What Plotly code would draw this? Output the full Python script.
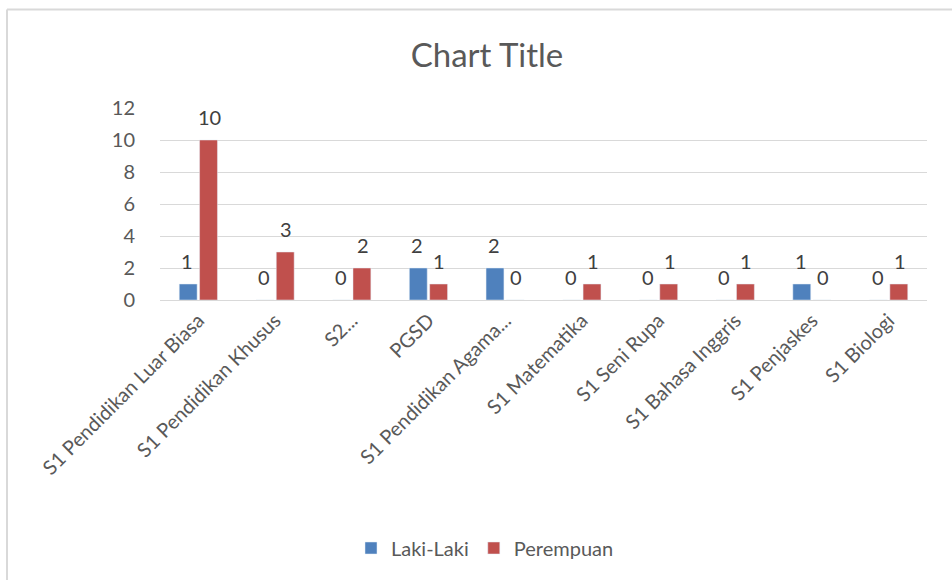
import plotly.graph_objs as go

# data
categories = ["S1 Pendidikan Luar Biasa", "S1 Pendidikan Khusus", "S2...", "PGSD",
              "S1 Pendidikan Agama...", "S1 Matematika", "S1 Seni Rupa",
              "S1 Bahasa Inggris", "S1 Penjaskes", "S1 Biologi"]
laki_laki = [1, 0, 0, 2, 2, 0, 0, 0, 1, 0]
perempuan = [10, 3, 2, 1, 0, 1, 1, 1, 0, 1]
y_ticks = [0, 2, 4, 6, 8, 10, 12]

FONT = "Lato"
GREY = "#595959"
LABEL = "#404040"

# whole window; the body margin is removed in the page below
W, H = 952, 580
# plot area edges measured on the reference
L, R, T, B = 160, 952 - 927, 108, 580 - 300
pw, ph = W - L - R, H - T - B


def px_x(x):
    return (x - L) / pw


def px_y(y):
    return (H - B - y) / ph


data = [
    go.Bar(x=categories, y=laki_laki, name="Laki-Laki", marker=dict(color="#4F81BD")),
    go.Bar(x=categories, y=perempuan, name="Perempuan", marker=dict(color="#C0504D")),
]

fig = go.Figure(data)

# value labels above every bar, zero included
annotations = []
for shift, values in [(-11, laki_laki), (11, perempuan)]:
    for cat, v in zip(categories, values):
        annotations.append(dict(x=cat, y=v, text=str(v), showarrow=False,
                                xshift=shift, yshift=23, yanchor="middle",
                                font=dict(family=FONT, size=20, color=LABEL)))

# chart border: only the top and left edges fall inside the window
border = dict(color="#D9D9D9", width=2)
shapes = [
    dict(type="line", xref="paper", yref="paper", x0=px_x(7), x1=px_x(W),
         y0=px_y(9.5), y1=px_y(9.5), line=border, layer="below"),
    dict(type="line", xref="paper", yref="paper", x0=px_x(7), x1=px_x(7),
         y0=px_y(9.5), y1=px_y(H), line=border, layer="below"),
]

fig.update_layout(
    width=W, height=H,
    margin=dict(l=L, r=R, t=T, b=B, autoexpand=False),
    paper_bgcolor="white", plot_bgcolor="white",
    font=dict(family=FONT, color=GREY),
    title=dict(text="Chart Title", x=487 / W, y=1 - 55 / H,
               xanchor="center", yanchor="middle",
               font=dict(family=FONT, size=33, color=GREY)),
    barmode="group", bargap=0.47, bargroupgap=0.12,
    legend=dict(orientation="h", x=px_x(485), y=px_y(548), xanchor="center", yanchor="middle",
                font=dict(family=FONT, size=20, color=GREY), itemwidth=30, traceorder="normal"),
    xaxis=dict(tickangle=-45, tickfont=dict(family=FONT, size=20, color=GREY),
               showgrid=False, showline=True, linecolor="#D9D9D9", ticks=""),
    yaxis=dict(range=[0, 12], tickvals=y_ticks, tickfont=dict(family=FONT, size=20, color=GREY),
               showgrid=True, gridcolor="#D9D9D9", gridwidth=1, zeroline=False,
               showline=False, ticklabelstandoff=24),
    annotations=annotations,
    shapes=shapes,
)

fig.write_html("out.html", config={"displayModeBar": False},
               post_script="document.body.style.margin='0';document.body.style.overflow='hidden';")
